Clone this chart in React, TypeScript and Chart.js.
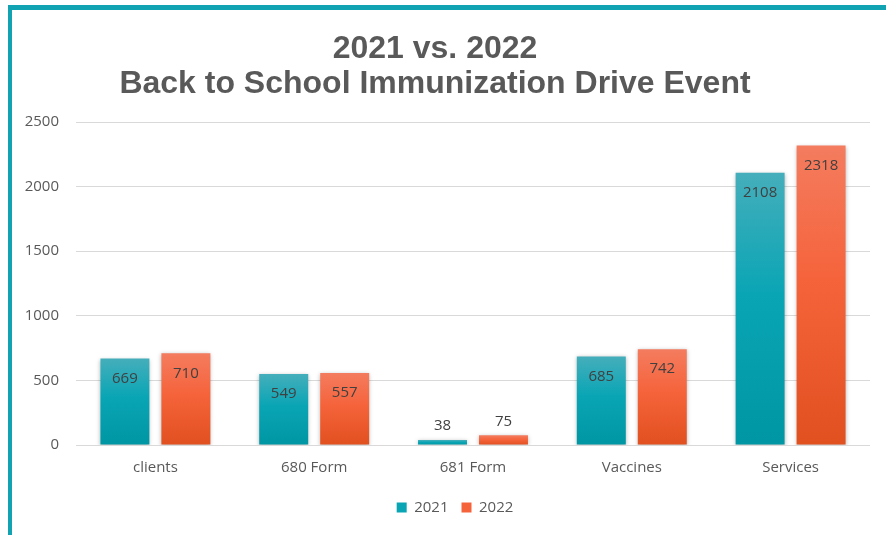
import React, { useEffect, useRef } from "react";
import { Chart, registerables } from "chart.js";

Chart.register(...registerables);

const categories = ["clients", "680 Form", "681 Form", "Vaccines", "Services"];
const seriesNames = ["2021", "2022"];
const values2021 = [669, 549, 38, 685, 2108];
const values2022 = [710, 557, 75, 742, 2318];
const titleLines = ["2021 vs. 2022", "Back to School Immunization Drive Event"];
const yMin = 0;
const yMax = 2500;
const yStep = 500;

const TEAL = ["#45AEBB", "#09A5B5", "#0096A3"];
const ORANGE = ["#F47C5F", "#F5633B", "#E1501F"];
const FRAME = "#12A3B2";
const TEXT = "#595959";
const LABEL = "#404040";
const FONT = '"Open Sans", "Noto Sans", sans-serif';

function barGradient(stops: string[]) {
  return (ctx: any) => {
    const chart = ctx.chart;
    if (!chart.chartArea || ctx.type !== "data" || !chart.scales.y) return stops[1];
    const y = chart.scales.y;
    const top = y.getPixelForValue(ctx.raw);
    const base = y.getPixelForValue(0);
    if (!(base - top > 1)) return stops[1];
    const g = chart.ctx.createLinearGradient(0, top, 0, base);
    g.addColorStop(0, stops[0]);
    g.addColorStop(0.45, stops[1]);
    g.addColorStop(1, stops[2]);
    return g;
  };
}

const decorPlugin = {
  id: "decor",
  afterLayout(chart: any) {
    const l = chart.legend;
    if (l) {
      l.left += 20;
      l.right += 20;
    }
  },
  beforeDatasetsDraw(chart: any) {
    const ctx = chart.ctx;
    ctx.save();
    ctx.shadowColor = "rgba(0,0,0,0.28)";
    ctx.shadowBlur = 4;
    ctx.shadowOffsetX = 0;
    ctx.shadowOffsetY = 1;
  },
  afterDatasetsDraw(chart: any) {
    const ctx = chart.ctx;
    ctx.restore();
    ctx.save();
    ctx.font = `15px ${FONT}`;
    ctx.fillStyle = LABEL;
    ctx.textAlign = "center";
    ctx.textBaseline = "middle";
    chart.data.datasets.forEach((ds: any, di: number) => {
      const meta = chart.getDatasetMeta(di);
      meta.data.forEach((bar: any, i: number) => {
        const h = bar.base - bar.y;
        const y = h > 34 ? bar.y + 20 : bar.y - 14;
        ctx.fillText(String(ds.data[i]), bar.x, y);
      });
    });
    ctx.restore();
  },
  afterDraw(chart: any) {
    const ctx = chart.ctx;
    ctx.save();
    ctx.font = `bold 32px "Liberation Sans", Arial, sans-serif`;
    ctx.fillStyle = TEXT;
    ctx.textAlign = "center";
    ctx.textBaseline = "alphabetic";
    const cx = chart.width / 2;
    ctx.fillText(titleLines[0], cx, 58);
    ctx.fillText(titleLines[1], cx, 93);
    ctx.restore();
  },
};

export default function App() {
  const ref = useRef<HTMLCanvasElement>(null);
  useEffect(() => {
    if (!ref.current) return;
    const chart = new Chart(ref.current, {
      type: "bar",
      data: {
        labels: categories,
        datasets: [
          {
            label: seriesNames[0],
            data: values2021,
            backgroundColor: barGradient(TEAL),
            categoryPercentage: 0.768,
            barPercentage: 0.803,
          },
          {
            label: seriesNames[1],
            data: values2022,
            backgroundColor: barGradient(ORANGE),
            categoryPercentage: 0.768,
            barPercentage: 0.803,
          },
        ],
      },
      options: {
        animation: false,
        responsive: false,
        devicePixelRatio: 1,
        layout: { padding: { top: 122, left: 0, right: 0, bottom: 10 } },
        plugins: {
          title: { display: false },
          tooltip: { enabled: false },
          legend: {
            position: "bottom",
            labels: {
              boxWidth: 10,
              boxHeight: 10,
              padding: 13,
              color: TEXT,
              font: { family: FONT, size: 15 },
              generateLabels: (c: any) =>
                c.data.datasets.map((ds: any, i: number) => ({
                  text: ds.label,
                  fillStyle: i === 0 ? TEAL[1] : ORANGE[1],
                  strokeStyle: "transparent",
                  lineWidth: 0,
                  datasetIndex: i,
                  hidden: false,
                  fontColor: TEXT,
                })),
            },
          },
        },
        scales: {
          x: {
            grid: { display: false, drawTicks: false },
            border: { display: false },
            ticks: { color: TEXT, padding: 14, font: { family: FONT, size: 15 } },
            afterFit: (s: any) => {
              s.height = 42;
            },
          },
          y: {
            min: yMin,
            max: yMax,
            ticks: {
              stepSize: yStep,
              color: TEXT,
              padding: 17,
              font: { family: FONT, size: 15 },
              callback: (v: any) => String(v),
            },
            grid: { color: "#D9D9D9", lineWidth: 1, drawTicks: false },
            border: { display: false },
            afterFit: (s: any) => {
              s.width = 76;
            },
          },
        },
      },
      plugins: [decorPlugin],
    });
    return () => chart.destroy();
  }, []);

  return (
    <div
      style={{
        position: "fixed",
        left: 0,
        top: 0,
        width: 886,
        height: 535,
        overflow: "hidden",
        background: "#fff",
      }}
    >
      <div
        style={{
          position: "absolute",
          left: 8,
          top: 5,
          width: 2000,
          height: 2000,
          borderLeft: `4px solid ${FRAME}`,
          borderTop: `5px solid ${FRAME}`,
        }}
      />
      <canvas
        ref={ref}
        width={870}
        height={535}
        style={{ position: "absolute", left: 0, top: 0, width: 870, height: 535 }}
      />
    </div>
  );
}
